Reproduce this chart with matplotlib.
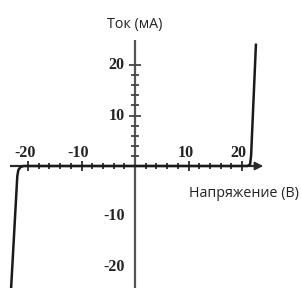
import matplotlib
matplotlib.use("Agg")
import matplotlib.pyplot as plt
import numpy as np

# Data (I-V characteristic)
voltage = [-23.2, -22.0, -21.8, -21.4, -20.8, 0.0, 21.0, 21.5, 21.7, 22.6]
current = [-25.0, -2.0, -0.8, -0.2, 0.0, 0.0, 0.0, 0.3, 2.0, 24.0]

x_ticks = list(range(-20, 21, 2))
x_ticks = [t for t in x_ticks if t != 0]
y_ticks = list(range(2, 21, 2))
x_labels = [-20, -10, 10, 20]
y_labels = [20, 10, -10, -20]

W, H = 301, 288
fig = plt.figure(figsize=(W / 100, H / 100), dpi=100)
ax = fig.add_axes([0, 0, 1, 1])
px_x = 5.35
px_y = 5.05
x0, y0 = 135, 166
ax.set_xlim(-x0 / px_x, (W - x0) / px_x)
ax.set_ylim(-(H - y0) / px_y, y0 / px_y)
ax.axis("off")

axc = "#2a2a2a"
# y axis
ax.plot([0, 0], [-(H - y0) / px_y, (y0 - 40) / px_y], color="#555555", lw=1.6, solid_capstyle="butt")
# x axis with arrow
ax.plot([(10 - x0) / px_x, (258 - x0) / px_x], [0, 0], color=axc, lw=1.6, solid_capstyle="butt")
ax.annotate("", xy=((266 - x0) / px_x, 0), xytext=((255 - x0) / px_x, 0),
            arrowprops=dict(arrowstyle="-|>,head_length=0.5,head_width=0.25", color=axc, lw=1.2))

# ticks
for t in x_ticks:
    ms = 7 if t in x_labels else 5
    ax.plot([t], [0], marker="|", ms=ms, mew=1.3, color=axc)
for t in y_ticks:
    ms = 8 if t in y_labels else 6
    ax.plot([0], [t], marker="_", ms=ms, mew=1.3, color="#444444")

# curve
ax.plot(voltage, current, color="#1a1a1a", lw=1.8, solid_joinstyle="round")

serif = dict(family="Liberation Serif", weight="bold", fontsize=11.5, color="#222222")
for t in x_labels:
    ax.text(t - 0.6, 2.6, f"{t}", ha="center", va="center", **serif)
for t in y_labels:
    ax.text(-1.9, t, f"{t}", ha="right", va="center", **serif)

sans = dict(family="Open Sans", fontsize=10.3, color="#222222")
ax.text(0, (y0 - 28) / px_y, "Ток (мА)", ha="center", va="baseline", **sans)
ax.text((299 - x0) / px_x, -(197 - y0) / px_y, "Напряжение (В)", ha="right", va="baseline", **sans)

fig.savefig("out.png", dpi=100)
